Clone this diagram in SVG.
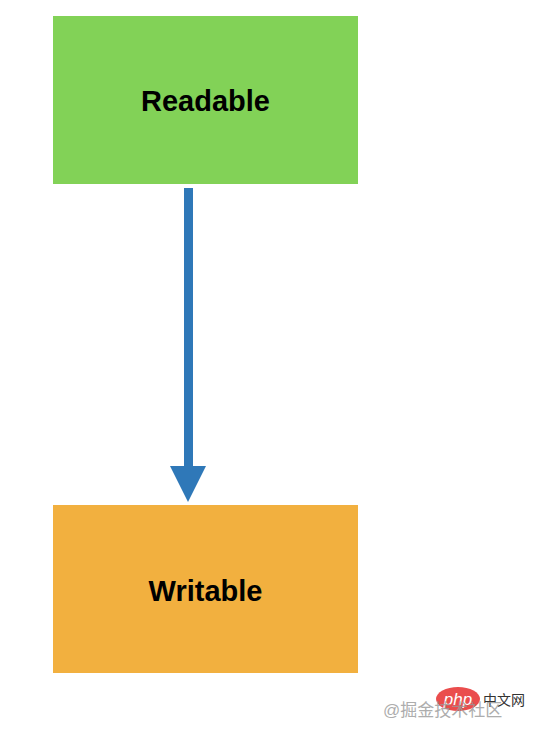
<svg xmlns="http://www.w3.org/2000/svg" width="536" height="731" viewBox="0 0 536 731">
<style>
.lbl{font-family:"Liberation Sans",Arial,sans-serif;font-weight:bold;font-size:29px;fill:#000;text-anchor:middle}
</style>
<rect width="536" height="731" fill="#fff"/>
<g id="readable"><rect x="53" y="16" width="305" height="168" fill="#82d257"/><text class="lbl" x="205.5" y="111">Readable</text></g>
<g id="writable"><rect x="53" y="505" width="305" height="168" fill="#f2b03f"/><text class="lbl" x="205.5" y="601">Writable</text></g>
<g id="connectors"><rect x="184" y="188" width="9" height="280" fill="#2f78b8"/><polygon points="170,466 206,466 188,502" fill="#2f78b8"/></g>
<g id="watermark">
<ellipse cx="458" cy="699" rx="22" ry="12" fill="#e83a3a" opacity="0.9"/>
<text x="458" y="705" font-family="Liberation Sans,Arial,sans-serif" font-style="italic" font-size="17" fill="#fff" text-anchor="middle">php</text>
<text x="483" y="705" font-family="Noto Sans CJK SC,sans-serif" font-size="14" fill="#333">中文网</text>
<text x="383" y="716" font-family="Liberation Sans,Noto Sans CJK SC,sans-serif" font-size="17" fill="#999" opacity="0.8">@掘金技术社区</text>
</g>
</svg>
